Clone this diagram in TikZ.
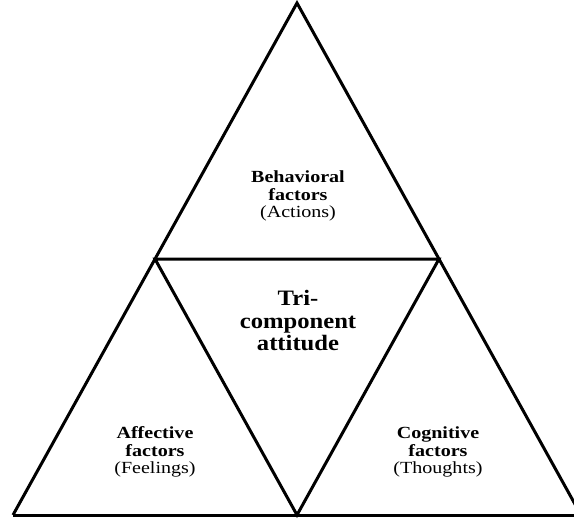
\documentclass[tikz,border=0pt]{standalone}
\usepackage{fontspec}
\setmainfont{Liberation Serif}
\newfontfamily\widea[FakeStretch=1.18]{Liberation Serif}
\newfontfamily\wideb[FakeStretch=1.12]{Liberation Serif}
\usetikzlibrary{calc}
\begin{document}
\begin{tikzpicture}[x=1pt,y=-1pt,
  edge/.style={line width=3pt},
  lbl/.style={align=center,inner sep=0pt,font=\widea\fontsize{17}{17.5}\selectfont},
  biglbl/.style={align=center,inner sep=0pt,font=\wideb\fontsize{22}{22.5}\selectfont\bfseries}]
\useasboundingbox (0,0) rectangle (574,522);
\clip (0,0) rectangle (574,522);
\coordinate (A) at (297,3);
\coordinate (L) at (13,515);
\coordinate (R) at (581,515);
\coordinate (ML) at ($(A)!0.5!(L)$);
\coordinate (MR) at ($(A)!0.5!(R)$);
\coordinate (MB) at ($(L)!0.5!(R)$);
\coordinate (E) at (600,515);
\draw[edge] (L) -- (A) -- (R);
\draw[edge] (L) -- (E);
\draw[edge] (ML) -- (MR) -- (MB) -- cycle;
\node[lbl] (beh) at (298,196) {\textbf{Behavioral}\\\textbf{factors}\\(Actions)};
\node[biglbl] (tri) at (298,321) {Tri-\\component\\attitude};
\node[lbl] (aff) at (155,452) {\textbf{Affective}\\\textbf{factors}\\(Feelings)};
\node[lbl] (cog) at (438,452) {\textbf{Cognitive}\\\textbf{factors}\\(Thoughts)};
\end{tikzpicture}
\end{document}
